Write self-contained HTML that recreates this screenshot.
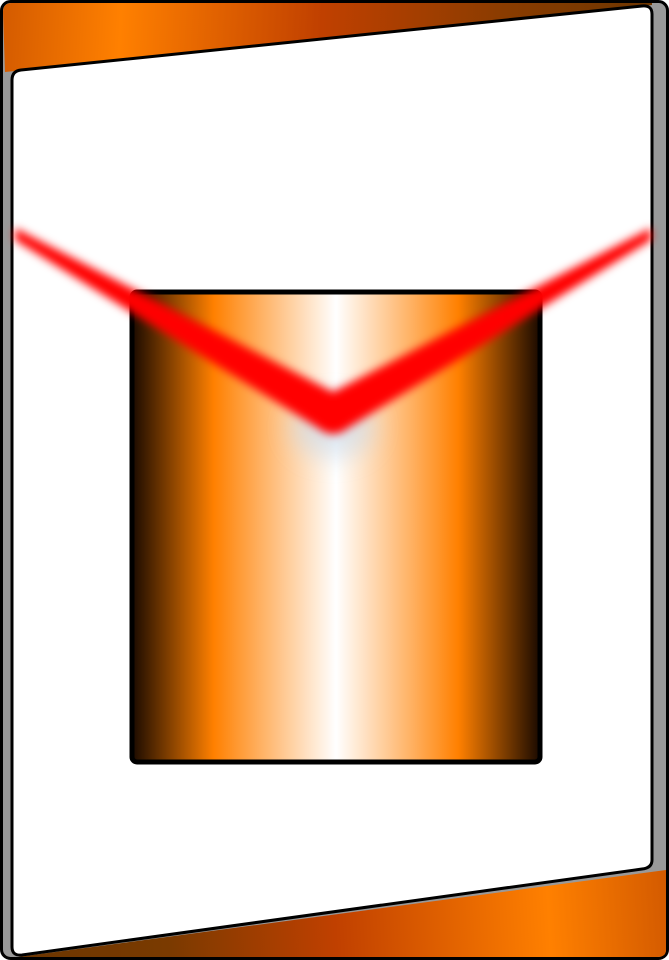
<!DOCTYPE html>
<html><head><meta charset="utf-8"><style>html,body{margin:0;padding:0;background:#fff}svg{display:block}</style></head>
<body>
<svg width="669" height="960" viewBox="0 0 669 960">
<defs>
<linearGradient id="topg" gradientUnits="userSpaceOnUse" x1="0" y1="20" x2="669" y2="60">
<stop offset="0" stop-color="#d35a00"/><stop offset="0.18" stop-color="#ff8000"/><stop offset="0.48" stop-color="#c04000"/><stop offset="0.75" stop-color="#8a3c00"/><stop offset="1" stop-color="#6a3500"/></linearGradient>
<linearGradient id="botg" gradientUnits="userSpaceOnUse" x1="0" y1="940" x2="669" y2="900">
<stop offset="0" stop-color="#6a3500"/><stop offset="0.25" stop-color="#7a3a00"/><stop offset="0.5" stop-color="#c04000"/><stop offset="0.82" stop-color="#ff8000"/><stop offset="1" stop-color="#d35a00"/></linearGradient>
<linearGradient id="boxg" x1="0" y1="0" x2="1" y2="0">
<stop offset="0" stop-color="#1a0a00"/><stop offset="0.2" stop-color="#ff8000"/><stop offset="0.5" stop-color="#ffffff"/><stop offset="0.8" stop-color="#ff8000"/><stop offset="1" stop-color="#1a0a00"/></linearGradient>
<filter id="blur" x="-10%" y="-30%" width="120%" height="160%"><feGaussianBlur stdDeviation="4.5"/></filter>
<filter id="blur2" x="-50%" y="-50%" width="200%" height="200%"><feGaussianBlur stdDeviation="12"/></filter>
</defs>
<rect x="1.5" y="1.5" width="666" height="957" rx="9" fill="#999" stroke="#000" stroke-width="3"/>
<path d="M3,12 Q3,3 12,3 L652,3 L652,5 L5,72 Z" fill="url(#topg)"/>
<path d="M666,870 L666,950 Q666,957 657,957 L18,957 Z" fill="url(#botg)"/>
<path d="M12,80 Q12,71 21,70 L642,6 Q652,5 652,14 L652,860 Q652,868 642,869 L22,955 Q12,956 12,947 Z" fill="#fff" stroke="#000" stroke-width="3"/>
<rect x="132" y="292" width="408" height="470" rx="5" fill="url(#boxg)" stroke="#000" stroke-width="5"/>
<ellipse cx="333" cy="428" rx="42" ry="30" fill="#c8d8e8" opacity="0.6" filter="url(#blur2)"/>
<path d="M15,228 L333,392 L651,228 L651,240 L348,428 Q333,440 318,428 L15,240 Z" fill="#ff0000" filter="url(#blur)"/>
</svg>
</body></html>
